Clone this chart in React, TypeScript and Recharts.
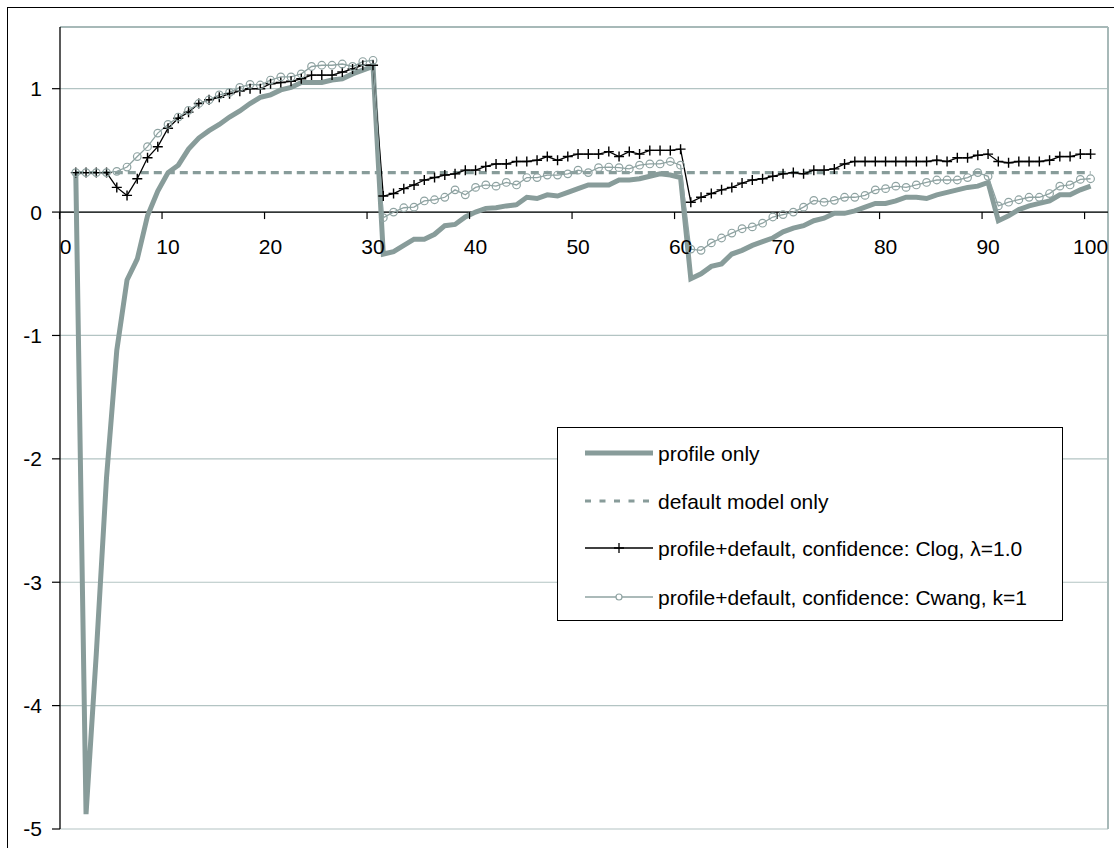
import React from 'react';
import { LineChart, Line, XAxis, YAxis, CartesianGrid, ReferenceLine, ReferenceDot } from 'recharts';

const FONT = '"Liberation Sans", Arial, sans-serif';
const GREY = '#889c9a';
const CWANG_GREY = '#8fa3a2';
const GRID = '#b3c4c3';

// x positions 1..100
const steps = Array.from({ length: 100 }, (_, i) => i + 1);

const profileOnly = [
  0.32, -4.88, -3.58, -2.15, -1.12, -0.55, -0.38, -0.03, 0.17, 0.32,
  0.38, 0.51, 0.6, 0.66, 0.71, 0.77, 0.82, 0.88, 0.93, 0.95,
  0.99, 1.01, 1.05, 1.05, 1.05, 1.07, 1.08, 1.12, 1.15, 1.18,
  -0.34, -0.32, -0.27, -0.22, -0.22, -0.18, -0.11, -0.1, -0.04, 0.0,
  0.03, 0.035, 0.05, 0.06, 0.12, 0.11, 0.14, 0.13, 0.16, 0.19,
  0.22, 0.22, 0.22, 0.26, 0.26, 0.27, 0.29, 0.31, 0.3, 0.28,
  -0.54, -0.5, -0.44, -0.42, -0.34, -0.31, -0.27, -0.24, -0.21, -0.16,
  -0.13, -0.11, -0.07, -0.05, -0.01, -0.01, 0.01, 0.04, 0.07, 0.07,
  0.09, 0.12, 0.12, 0.11, 0.14, 0.16, 0.18, 0.2, 0.21, 0.24,
  -0.07, -0.03, 0.02, 0.05, 0.07, 0.09, 0.14, 0.14, 0.18, 0.21,
];

const defaultModelOnly = [
  0.32, 0.32, 0.32, 0.32, 0.32, 0.32, 0.32, 0.32, 0.32, 0.32,
  0.32, 0.32, 0.32, 0.32, 0.32, 0.32, 0.32, 0.32, 0.32, 0.32,
  0.32, 0.32, 0.32, 0.32, 0.32, 0.32, 0.32, 0.32, 0.32, 0.32,
  0.32, 0.32, 0.32, 0.32, 0.32, 0.32, 0.32, 0.32, 0.32, 0.32,
  0.32, 0.32, 0.32, 0.32, 0.32, 0.32, 0.32, 0.32, 0.32, 0.32,
  0.32, 0.32, 0.32, 0.32, 0.32, 0.32, 0.32, 0.32, 0.32, 0.32,
  0.32, 0.32, 0.32, 0.32, 0.32, 0.32, 0.32, 0.32, 0.32, 0.32,
  0.32, 0.32, 0.32, 0.32, 0.32, 0.32, 0.32, 0.32, 0.32, 0.32,
  0.32, 0.32, 0.32, 0.32, 0.32, 0.32, 0.32, 0.32, 0.32, 0.32,
  0.32, 0.32, 0.32, 0.32, 0.32, 0.32, 0.32, 0.32, 0.32, 0.32,
];

const clogLambda1 = [
  0.32, 0.32, 0.32, 0.32, 0.2, 0.135, 0.27, 0.44, 0.53, 0.68,
  0.76, 0.81, 0.88, 0.91, 0.93, 0.96, 0.98, 1.0, 1.0, 1.04,
  1.05, 1.06, 1.08, 1.11, 1.11, 1.11, 1.135, 1.16, 1.19, 1.19,
  0.13, 0.15, 0.19, 0.22, 0.26, 0.28, 0.3, 0.31, 0.34, 0.34,
  0.37, 0.39, 0.39, 0.41, 0.41, 0.42, 0.45, 0.42, 0.45, 0.47,
  0.47, 0.47, 0.49, 0.45, 0.49, 0.47, 0.5, 0.5, 0.5, 0.51,
  0.08, 0.12, 0.15, 0.18, 0.2, 0.235, 0.26, 0.27, 0.29, 0.31,
  0.32, 0.31, 0.34, 0.34, 0.35, 0.39, 0.41, 0.41, 0.41, 0.41,
  0.41, 0.41, 0.41, 0.41, 0.42, 0.41, 0.44, 0.44, 0.46, 0.47,
  0.41, 0.4, 0.41, 0.41, 0.41, 0.42, 0.45, 0.45, 0.47, 0.47,
];

const cwangK1 = [
  0.32, 0.32, 0.32, 0.32, 0.33, 0.365, 0.45, 0.53, 0.64, 0.71,
  0.77, 0.825, 0.88, 0.91, 0.95, 0.97, 1.01, 1.035, 1.03, 1.07,
  1.095, 1.095, 1.12, 1.18, 1.19, 1.19, 1.2, 1.18, 1.22, 1.23,
  -0.045, 0.0, 0.035, 0.04, 0.09, 0.1, 0.12, 0.18, 0.14, 0.2,
  0.22, 0.21, 0.24, 0.22, 0.28, 0.28, 0.3, 0.3, 0.31, 0.34,
  0.32, 0.36, 0.365, 0.36, 0.35, 0.38, 0.39, 0.39, 0.41, 0.38,
  -0.3, -0.31, -0.25, -0.21, -0.17, -0.135, -0.12, -0.09, -0.04, -0.02,
  0.0, 0.04, 0.095, 0.08, 0.095, 0.12, 0.12, 0.135, 0.18, 0.19,
  0.21, 0.2, 0.22, 0.24, 0.26, 0.26, 0.26, 0.28, 0.32, 0.29,
  0.05, 0.08, 0.1, 0.12, 0.12, 0.15, 0.21, 0.22, 0.265, 0.27,
];

const xTicks = [0, 10, 20, 30, 40, 50, 60, 70, 80, 90, 100];
const yTicks = [-5, -4, -3, -2, -1, 0, 1];

const legendItems = [
  'profile only',
  'default model only',
  'profile+default, confidence: Clog, \u03bb=1.0',
  'profile+default, confidence: Cwang, k=1',
];

const data = steps.map((x, i) => ({
  x,
  profile: profileOnly[i],
  def: defaultModelOnly[i],
  clog: clogLambda1[i],
  cwang: cwangK1[i],
}));

const PlusDot = (props: any) => {
  const { cx, cy, index } = props;
  if (cx == null || cy == null) return <g key={index} />;
  return (
    <path
      key={index}
      d={`M${cx - 5},${cy}h10M${cx},${cy - 5}v10`}
      stroke="#000"
      strokeWidth={1.4}
      fill="none"
    />
  );
};

const XTickMark = (t: number) => (p: any) => (
  <g>
    <line x1={p.cx - 6} y1={p.cy} x2={p.cx - 6} y2={p.cy + 7} stroke="#000" strokeWidth={1.2} />
    <text x={p.cx} y={p.cy + 42} textAnchor="middle" fontSize={21} fontFamily={FONT} fill="#000">
      {t}
    </text>
  </g>
);

const ChartLegend = () => {
  const rows = [25, 73, 120, 169];
  return (
    <div
      style={{
        position: 'absolute',
        left: 549,
        top: 419,
        width: 506,
        height: 194,
        boxSizing: 'border-box',
        border: '1px solid #000',
        background: '#fff',
      }}
    >
      <svg width={504} height={192}>
        <line x1={27} y1={rows[0]} x2={95} y2={rows[0]} stroke={GREY} strokeWidth={5} />
        <line x1={27} y1={rows[1]} x2={95} y2={rows[1]} stroke={GREY} strokeWidth={3.2} strokeDasharray="6 8.5" />
        <line x1={27} y1={rows[2]} x2={95} y2={rows[2]} stroke="#000" strokeWidth={1.3} />
        <path d={`M56,${rows[2]}h10M61,${rows[2] - 5}v10`} stroke="#000" strokeWidth={1.3} />
        <line x1={27} y1={rows[3]} x2={95} y2={rows[3]} stroke={CWANG_GREY} strokeWidth={1.3} />
        <circle cx={61} cy={rows[3]} r={3} stroke={CWANG_GREY} strokeWidth={1.2} fill="#fff" />
        {legendItems.map((label, i) => (
          <text key={label} x={100} y={rows[i] + 7.5} fontSize={21} fontFamily={FONT} fill="#000">
            {label}
          </text>
        ))}
      </svg>
    </div>
  );
};

const App: React.FC = () => {
  return (
    <div
      style={{
        position: 'fixed',
        left: 7,
        top: 7,
        width: 1107,
        height: 841,
        borderLeft: '1px solid #000',
        borderTop: '1px solid #000',
        background: '#fff',
        fontFamily: FONT,
      }}
    >
      <LineChart width={1106} height={840} data={data} margin={{ top: 19, right: 6, bottom: 19, left: 0 }}>
        <CartesianGrid vertical={false} stroke={GRID} strokeWidth={1.2} />
        <XAxis type="number" dataKey="x" domain={[-0.54, 101.7]} hide allowDataOverflow />
        <YAxis
          type="number"
          domain={[-5, 1.5]}
          ticks={yTicks}
          interval={0}
          width={52}
          allowDataOverflow
          axisLine={{ stroke: '#000', strokeWidth: 1.3 }}
          tickLine={{ stroke: '#000', strokeWidth: 1.2 }}
          tickSize={8}
          tickMargin={10}
          tick={{ fontSize: 21, fill: '#000', fontFamily: FONT }}
        />
        <ReferenceLine y={1.5} stroke="#a7b9b8" strokeWidth={2} />
        <ReferenceLine x={101.7} stroke="#a7b9b8" strokeWidth={2} />
        <ReferenceLine y={0} stroke="#000" strokeWidth={1.3} />
        {xTicks.map((t) => (
          <ReferenceDot key={t} x={t} y={0} r={0} shape={XTickMark(t)} />
        ))}
        <Line
          type="linear"
          dataKey="profile"
          stroke={GREY}
          strokeWidth={5}
          dot={false}
          activeDot={false}
          isAnimationActive={false}
        />
        <Line
          type="linear"
          dataKey="def"
          stroke={GREY}
          strokeWidth={3.2}
          strokeDasharray="8 5"
          dot={false}
          activeDot={false}
          isAnimationActive={false}
        />
        <Line
          type="linear"
          dataKey="clog"
          stroke="#000"
          strokeWidth={1.3}
          dot={PlusDot}
          activeDot={false}
          isAnimationActive={false}
        />
        <Line
          type="linear"
          dataKey="cwang"
          stroke={CWANG_GREY}
          strokeWidth={1.3}
          dot={{ r: 3.8, stroke: CWANG_GREY, strokeWidth: 1.2, fill: 'none' }}
          activeDot={false}
          isAnimationActive={false}
        />
      </LineChart>
      <ChartLegend />
    </div>
  );
};

export default App;
